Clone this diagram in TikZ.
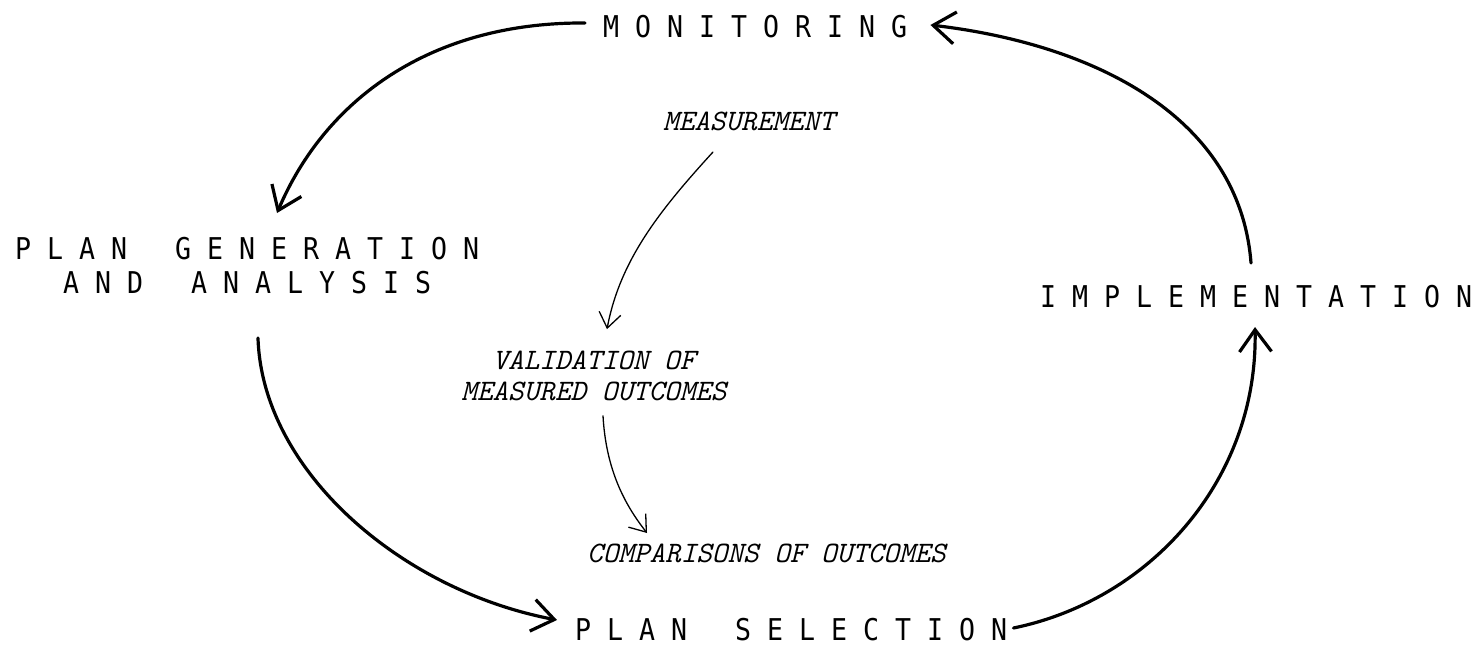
\documentclass[tikz,border=0pt]{standalone}
\usepackage{fontspec}
\usetikzlibrary{arrows.meta}
\newfontfamily\capsfont[FakeStretch=0.886]{DejaVu Sans Mono}
\begin{document}
\begin{tikzpicture}[x=1pt,y=-1pt,
  caps/.style={font=\capsfont\fontsize{30}{34}\selectfont, inner sep=0pt, anchor=base west},
  ital/.style={font=\ttfamily\itshape\fontsize{29.7}{30.5}\selectfont, inner sep=0pt, anchor=base west},
  big/.style={line width=3.2pt, line cap=round,
    -{Straight Barb[length=22pt,width=32pt,line width=3.2pt]}},
  small/.style={line width=1.3pt, line cap=round,
    -{Straight Barb[length=15pt,width=22pt,line width=1.3pt]}}]
\useasboundingbox (0,0) rectangle (1471,645);

% stages of the cycle
\node[caps] (mon)  at (603,37)  {M O N I T O R I N G};
\node[caps] (gen1) at (15,259)  {P L A N\ \ \ G E N E R A T I O N};
\node[caps] (gen2) at (63,293)  {A N D\ \ \ A N A L Y S I S};
\node[caps] (sel)  at (575,640) {P L A N\ \ \ S E L E C T I O N};
\node[caps] (impl) at (1040,307) {I M P L E M E N T A T I O N};

% evaluation steps
\node[ital] (meas) at (663,130) {MEASUREMENT};
\node[ital, anchor=center, align=center] (val) at (594,376)
  {VALIDATION OF\\MEASURED OUTCOMES};
\node[ital] (comp) at (587,562) {COMPARISONS OF OUTCOMES};

% connector end points
\coordinate (monL)  at ([shift={(-18,-14)}]mon.base west);
\coordinate (monR)  at ([shift={(23,-12)}]mon.base east);
\coordinate (genT)  at ([shift={(262,-46)}]gen1.base west);
\coordinate (genB)  at ([shift={(195,45)}]gen2.base west);
\coordinate (selL)  at ([shift={(-18,-20)}]sel.base west);
\coordinate (selR)  at ([shift={(6,-12)}]sel.base east);
\coordinate (implB) at ([shift={(215,20)}]impl.base west);
\coordinate (implT) at ([shift={(211,-44)}]impl.base west);
\coordinate (measB) at ([shift={(50,22)}]meas.base west);
\coordinate (valT)  at ([shift={(13,-22)}]val.north);
\coordinate (valB)  at ([shift={(9,15)}]val.south);
\coordinate (compT) at ([shift={(60,-29)}]comp.base west);

% main cycle
\draw[big] (monL) .. controls (430,22) and (325,100) .. (genT);
\draw[big] (genB) .. controls (262,470) and (400,590) .. (selL);
\draw[big] (selR) .. controls (1150,600) and (1258,480) .. (implB);
\draw[big] (implT) .. controls (1240,120) and (1100,45) .. (monR);

% evaluation chain
\draw[small] (measB) .. controls (660,210) and (620,260) .. (valT);
\draw[small] (valB) .. controls (606,470) and (625,505) .. (compT);
\end{tikzpicture}
\end{document}
